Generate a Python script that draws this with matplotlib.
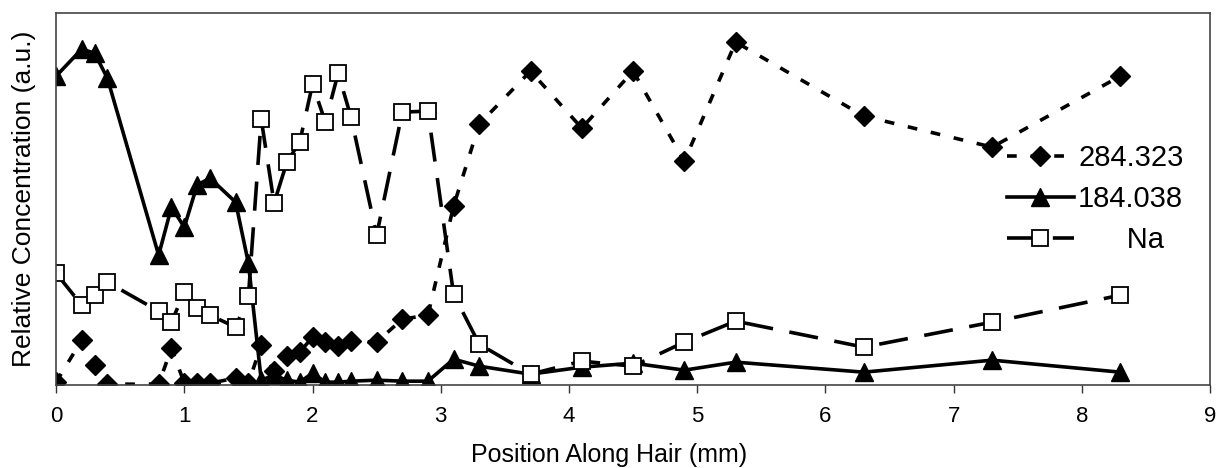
import matplotlib
matplotlib.use("Agg")
import matplotlib.pyplot as plt

plt.rcParams['font.family'] = ['Liberation Sans', 'DejaVu Sans']
plt.rcParams['lines.scale_dashes'] = False

# 284.323 (diamonds)
x_284 = [0.0, 0.2, 0.3, 0.4, 0.8, 0.9, 1.0, 1.1, 1.2, 1.4, 1.5, 1.6, 1.7, 1.8, 1.9, 2.0,
         2.1, 2.2, 2.3, 2.5, 2.7, 2.9, 3.1, 3.3, 3.7, 4.1, 4.5, 4.9, 5.3, 6.3, 7.3, 8.3]
y_284 = [3, 45, 20, 1, 1, 37, 2, 2, 2, 7, 2, 40, 14, 29, 33, 48,
         43, 39, 44, 43, 66, 70, 179, 261, 314, 257, 314, 224, 343, 269, 238, 309]

# 184.038 (triangles)
x_184 = [0.0, 0.2, 0.3, 0.4, 0.8, 0.9, 1.0, 1.1, 1.2, 1.4, 1.5, 1.6, 1.7, 1.8, 1.9, 2.0,
         2.1, 2.2, 2.3, 2.5, 2.7, 2.9, 3.1, 3.3, 3.7, 4.1, 4.5, 4.9, 5.3, 6.3, 7.3, 8.3]
y_184 = [309, 336, 332, 307, 130, 178, 158, 200, 207, 183, 122, 5, 10, 5, 3, 12,
         3, 3, 4, 5, 4, 4, 26, 19, 11, 18, 22, 15, 23, 13, 25, 13]

# Na (open squares)
x_na = [0.0, 0.2, 0.3, 0.4, 0.8, 0.9, 1.0, 1.1, 1.2, 1.4, 1.5, 1.6, 1.7, 1.8, 1.9, 2.0,
        2.1, 2.2, 2.3, 2.5, 2.7, 2.9, 3.1, 3.3, 3.7, 4.1, 4.5, 4.9, 5.3, 6.3, 7.3, 8.3]
y_na = [112, 80, 90, 103, 74, 63, 93, 77, 70, 58, 89, 266, 182, 223, 243, 301,
        263, 312, 268, 150, 273, 274, 91, 41, 11, 24, 19, 43, 64, 38, 63, 90]

labels = ['284.323', '184.038', '      Na']
x_ticks = list(range(0, 10))

fig = plt.figure(figsize=(12.19, 4.68), dpi=100)
ax = fig.add_axes([0.046, 0.177, 0.9467, 0.795])

ax.plot(x_284, y_284, color='black', lw=2.6, dashes=(7, 10), marker='D', ms=10,
        mfc='black', mec='black', label=labels[0])
ax.plot(x_184, y_184, color='black', lw=2.6, ls='-', marker='^', ms=13,
        mfc='black', mec='black', label=labels[1])
ax.plot(x_na, y_na, color='black', lw=2.6, dashes=(21, 12), marker='s', ms=12,
        mfc='white', mec='black', mew=1.3, label=labels[2])

ax.set_xlim(0, 9)
ax.set_ylim(0, 372)
ax.set_xticks(x_ticks)
ax.set_xticklabels([str(t) for t in x_ticks], fontsize=16)
ax.set_yticks([])
ax.tick_params(axis='x', direction='out', length=6, width=1, color='#333333', pad=9)
for s in ax.spines.values():
    s.set_color('#444444')
    s.set_linewidth(1.2)

ax.set_xlabel('Position Along Hair (mm)', fontsize=18)
ax.xaxis.set_label_coords(0.479, -0.155)
ax.set_ylabel('Relative Concentration (a.u.)', fontsize=19)
ax.yaxis.set_label_coords(-0.017, 0.5)

leg = ax.legend(loc='center left', bbox_to_anchor=(0.806, 0.5), frameon=False,
                fontsize=21, numpoints=1, handlelength=2.3, handletextpad=0.15,
                labelspacing=0.45, borderpad=0.2)

fig.savefig('out.png', dpi=100)
